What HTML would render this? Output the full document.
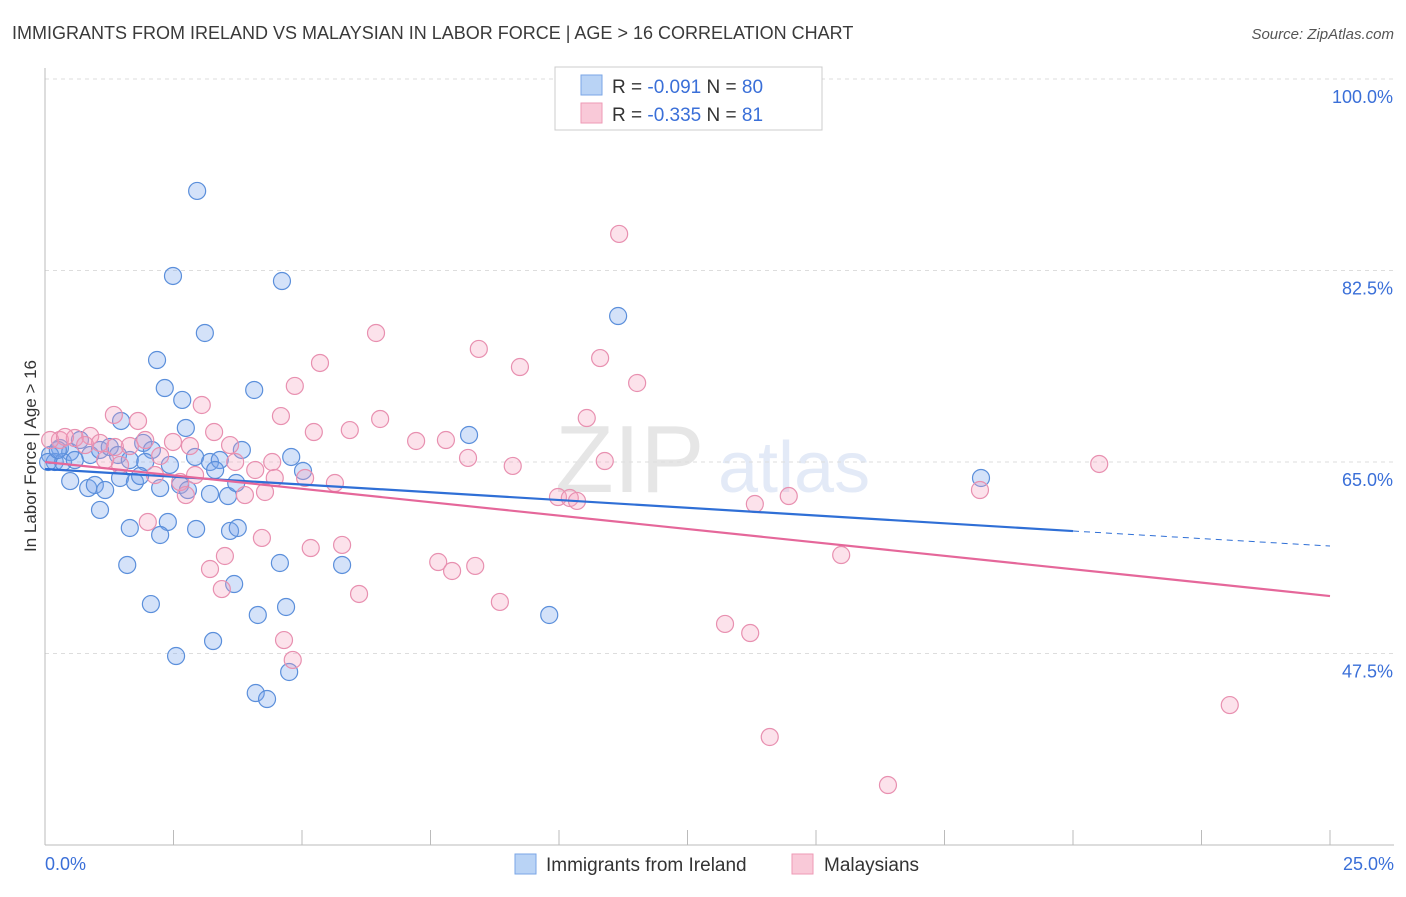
<!DOCTYPE html>
<html><head><meta charset="utf-8">
<style>
body{margin:0;background:#fff;font-family:"Liberation Sans",sans-serif;}
svg text{font-family:"Liberation Sans",sans-serif;}
</style></head>
<body>
<svg id="chart" width="1406" height="892" viewBox="0 0 1406 892" xmlns="http://www.w3.org/2000/svg">
<text x="12" y="39" font-size="18" fill="#3a3a3a">IMMIGRANTS FROM IRELAND VS MALAYSIAN IN LABOR FORCE | AGE &gt; 16 CORRELATION CHART</text>
<text x="1394" y="39" font-size="15" fill="#555" font-style="italic" text-anchor="end">Source: ZipAtlas.com</text>
<g opacity="0.18">
<text x="555" y="492" font-size="96" font-family="Liberation Serif" fill="#777">ZIP</text>
<text x="718" y="492" font-size="72" fill="#6b8fd6">atlas</text>
</g>
<g id="grid"></g>
<g id="axes"></g>
<g id="pts"></g>
<g id="trends"></g>
<text x="36" y="456" font-size="17" fill="#333" text-anchor="middle" transform="rotate(-90 36 456)">In Labor Force | Age &gt; 16</text>
<text x="45" y="870" font-size="18" fill="#3a6fd8">0.0%</text>
<text x="1394" y="870" font-size="18" fill="#3a6fd8" text-anchor="end">25.0%</text>
<g>
<rect x="555" y="67" width="267" height="63" fill="#fff" stroke="#ccc"/>
<rect x="581" y="75" width="21" height="20" fill="#b9d3f5" stroke="#7aa6e6"/>
<rect x="581" y="103" width="21" height="20" fill="#f9c9d8" stroke="#ee9ab6"/>
<text x="612" y="93" font-size="19" fill="#333">R = <tspan fill="#3a6fd8">-0.091</tspan>   N = <tspan fill="#3a6fd8">80</tspan></text>
<text x="612" y="121" font-size="19" fill="#333">R = <tspan fill="#3a6fd8">-0.335</tspan>   N =  <tspan fill="#3a6fd8">81</tspan></text>
</g>
<g>
<rect x="515" y="854" width="21" height="20" fill="#b9d3f5" stroke="#7aa6e6"/>
<text x="546" y="871" font-size="19" fill="#333">Immigrants from Ireland</text>
<rect x="792" y="854" width="21" height="20" fill="#f9c9d8" stroke="#ee9ab6"/>
<text x="824" y="871" font-size="19" fill="#333">Malaysians</text>
</g>
</svg>
<script>
const yTicks=[100,82.5,65,47.5];
const yTickLabels=["100.0%","82.5%","65.0%","47.5%"];
const blueX=[2.96,2.49,4.61,3.11,11.15,2.18,2.33,4.07,2.67,1.48,2.74,8.25,1.91,3.83,4.79,2.08,0.29,0.10,0.19,0.49,0.68,0.88,1.07,1.26,1.42,1.65,1.95,2.43,2.92,3.21,3.40,3.31,5.02,0.49,0.84,0.97,1.17,1.46,1.75,2.24,2.63,2.78,3.21,3.56,3.72,1.07,1.65,2.39,2.24,2.94,3.60,3.75,1.60,4.57,5.78,3.68,2.06,4.14,4.69,9.81,3.27,2.55,4.75,4.10,4.32,18.21,0.35,0.58,1.85,0.06,0.25];
const blueY=[89.77,82.0,81.54,76.79,78.34,74.32,71.76,71.58,70.67,68.75,68.11,67.47,66.74,66.10,65.46,66.10,66.28,65.64,65.0,65.91,67.01,65.64,66.10,66.37,65.64,65.18,65.0,64.73,65.46,65.0,65.18,64.27,64.18,63.26,62.62,62.90,62.44,63.54,63.17,62.62,62.90,62.44,62.08,61.89,63.08,60.62,58.97,59.52,58.33,58.88,58.70,58.97,55.59,55.77,55.59,53.85,52.02,51.02,51.75,51.02,48.64,47.27,45.81,43.89,43.34,63.54,65.0,65.18,63.72,65.0,66.10];
const pinkX=[11.17,6.44,8.44,9.24,10.80,5.35,11.52,4.86,3.05,1.34,1.81,6.52,10.54,4.59,3.29,5.23,5.93,7.22,7.80,2.49,1.95,2.82,1.65,0.29,0.58,0.88,1.07,1.36,2.24,3.70,4.09,4.42,5.06,5.64,8.23,9.10,10.89,20.51,18.19,9.98,10.21,10.35,13.81,14.47,1.46,2.14,2.63,2.74,3.89,4.28,2.00,4.22,5.17,3.50,5.78,3.21,7.65,7.92,8.37,15.49,3.44,6.11,8.85,13.23,13.72,4.65,4.82,14.10,16.40,23.05,0.10,0.39,0.78,1.17,2.92,3.60,4.47];
const pinkY=[85.84,76.79,75.33,73.68,74.50,74.05,72.22,71.95,70.21,69.30,68.75,68.93,69.02,69.20,67.74,67.74,67.92,66.92,67.01,66.83,67.01,66.46,66.46,67.01,67.19,67.38,66.74,66.37,65.55,65.0,64.27,65.0,63.54,63.08,65.37,64.64,65.09,64.82,62.44,61.80,61.71,61.44,61.16,61.89,64.73,63.81,63.17,61.98,61.98,62.26,59.52,58.06,57.14,56.41,57.42,55.22,55.86,55.04,55.50,56.50,53.39,52.94,52.21,50.20,49.37,48.73,46.91,39.87,35.48,42.79,67.01,67.29,66.55,65.18,63.81,66.55,63.54];
const blueTrendX=[0,20,25];
const blueTrendY=[64.36,58.69,57.32];
const pinkTrendX=[0,25];
const pinkTrendY=[65.0,52.75];

const NS="http://www.w3.org/2000/svg";
const X0=45,X1=1330,YTOP=79;
function xs(v){return X0+(v/25)*(X1-X0);}
function ys(v){return YTOP+(100-v)/17.5*191.5;}
function mk(tag,attrs,parent){const e=document.createElementNS(NS,tag);for(const k in attrs)e.setAttribute(k,attrs[k]);parent.appendChild(e);return e;}

const grid=document.getElementById('grid');
yTicks.forEach((t,i)=>{
  const l=mk('line',{x1:X0,x2:1394,y1:ys(t),y2:ys(t),stroke:'#ddd','stroke-dasharray':'4,4'},grid);
  
  
  const tx=mk('text',{x:1393,y:ys(t)+24,'font-size':18,fill:'#3a6fd8','text-anchor':'end'},grid);
  tx.textContent=yTickLabels[i];
  
  
});
const axes=document.getElementById('axes');
const ax=mk('line',{x1:X0,x2:1394,y1:845,y2:845,stroke:'#bbb'},axes);


const ay=mk('line',{x1:X0,x2:X0,y1:68,y2:845,stroke:'#bbb'},axes);


for(let i=1;i<=10;i++){
  const t=mk('line',{x1:xs(i*2.5),x2:xs(i*2.5),y1:830,y2:845,stroke:'#bbb'},axes);
  
  
}
const pts=document.getElementById('pts');
blueX.forEach((v,i)=>{
  const c=mk('circle',{cx:xs(v),cy:ys(blueY[i]),r:8.5,fill:'rgba(120,165,235,0.32)',stroke:'#5b8fdb','stroke-width':1.2},pts);
  
  
});
pinkX.forEach((v,i)=>{
  const c=mk('circle',{cx:xs(v),cy:ys(pinkY[i]),r:8.5,fill:'rgba(245,160,190,0.3)',stroke:'#e890b0','stroke-width':1.2},pts);
  
  
});
const tr=document.getElementById('trends');
const b1=mk('line',{x1:xs(blueTrendX[0]),y1:ys(blueTrendY[0]),x2:xs(blueTrendX[1]),y2:ys(blueTrendY[1]),stroke:'#2f6fd6','stroke-width':2.2},tr);


const b2=mk('line',{x1:xs(blueTrendX[1]),y1:ys(blueTrendY[1]),x2:xs(blueTrendX[2]),y2:ys(blueTrendY[2]),stroke:'#2f6fd6','stroke-width':1,'stroke-dasharray':'6,5'},tr);


const p1=mk('line',{x1:xs(pinkTrendX[0]),y1:ys(pinkTrendY[0]),x2:xs(pinkTrendX[1]),y2:ys(pinkTrendY[1]),stroke:'#e5679a','stroke-width':2.2},tr);


</script>
</body></html>
